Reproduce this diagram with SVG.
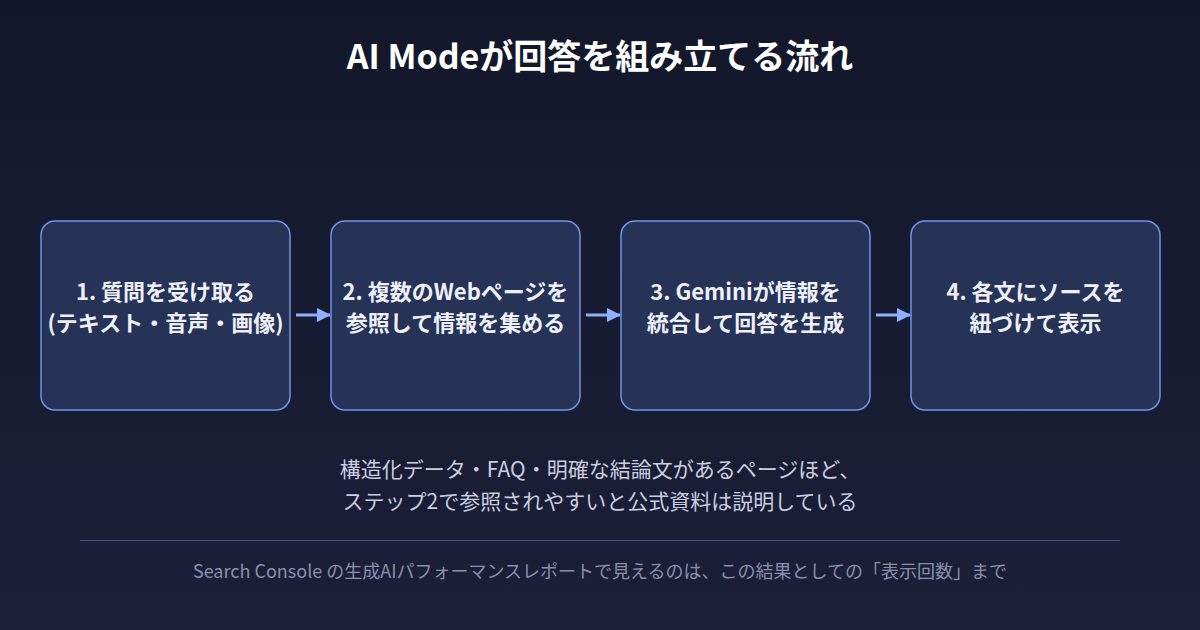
<svg xmlns="http://www.w3.org/2000/svg" width="1200" height="630" viewBox="0 0 1200 630">
<defs>
<linearGradient id="bg" x1="0" y1="0" x2="0" y2="1"><stop offset="0" stop-color="#12172a"/><stop offset="1" stop-color="#1b2039"/></linearGradient>
<marker id="ah" markerWidth="14" markerHeight="14" refX="13" refY="7" orient="auto" markerUnits="userSpaceOnUse"><path d="M0,0 L14,7 L0,14 Z" fill="#8fb0ff"/></marker>
<style>
text{font-family:"Noto Sans CJK JP","Noto Sans",sans-serif;text-anchor:middle}
.box{fill:#263256;stroke:#6f95e6;stroke-width:1.5}
.lbl{fill:#eef1fb;font-size:22px;font-weight:bold}
.note{fill:#c9cde0;font-size:21px}
.foot{fill:#8990ad;font-size:18px}
.conn{stroke:#8fb0ff;stroke-width:3;fill:none}
</style>
</defs>
<rect width="1200" height="630" fill="url(#bg)"/>
<text x="600" y="69" fill="#ffffff" font-size="34" font-weight="bold">AI Modeが回答を組み立てる流れ</text>
<g id="n1"><rect class="box" x="41" y="221" width="249" height="189" rx="14"/><text class="lbl" x="165.5" y="300">1. 質問を受け取る</text><text class="lbl" x="165.5" y="331">(テキスト・音声・画像)</text></g>
<g id="n2"><rect class="box" x="331" y="221" width="249" height="189" rx="14"/><text class="lbl" x="455.5" y="300">2. 複数のWebページを</text><text class="lbl" x="455.5" y="331">参照して情報を集める</text></g>
<g id="n3"><rect class="box" x="621" y="221" width="249" height="189" rx="14"/><text class="lbl" x="745.5" y="300">3. Geminiが情報を</text><text class="lbl" x="745.5" y="331">統合して回答を生成</text></g>
<g id="n4"><rect class="box" x="911" y="221" width="249" height="189" rx="14"/><text class="lbl" x="1035.5" y="300">4. 各文にソースを</text><text class="lbl" x="1035.5" y="331">紐づけて表示</text></g>
<g id="connectors">
<line class="conn" x1="296" y1="315" x2="330" y2="315" marker-end="url(#ah)"/>
<line class="conn" x1="586" y1="315" x2="620" y2="315" marker-end="url(#ah)"/>
<line class="conn" x1="876" y1="315" x2="910" y2="315" marker-end="url(#ah)"/>
</g>
<text class="note" x="600" y="477">構造化データ・FAQ・明確な結論文があるページほど、</text>
<text class="note" x="600" y="509">ステップ2で参照されやすいと公式資料は説明している</text>
<line x1="80" y1="540.5" x2="1120" y2="540.5" stroke="#4a5482" stroke-width="1"/>
<text class="foot" x="600" y="578">Search Console の生成AIパフォーマンスレポートで見えるのは、この結果としての「表示回数」まで</text>
</svg>
